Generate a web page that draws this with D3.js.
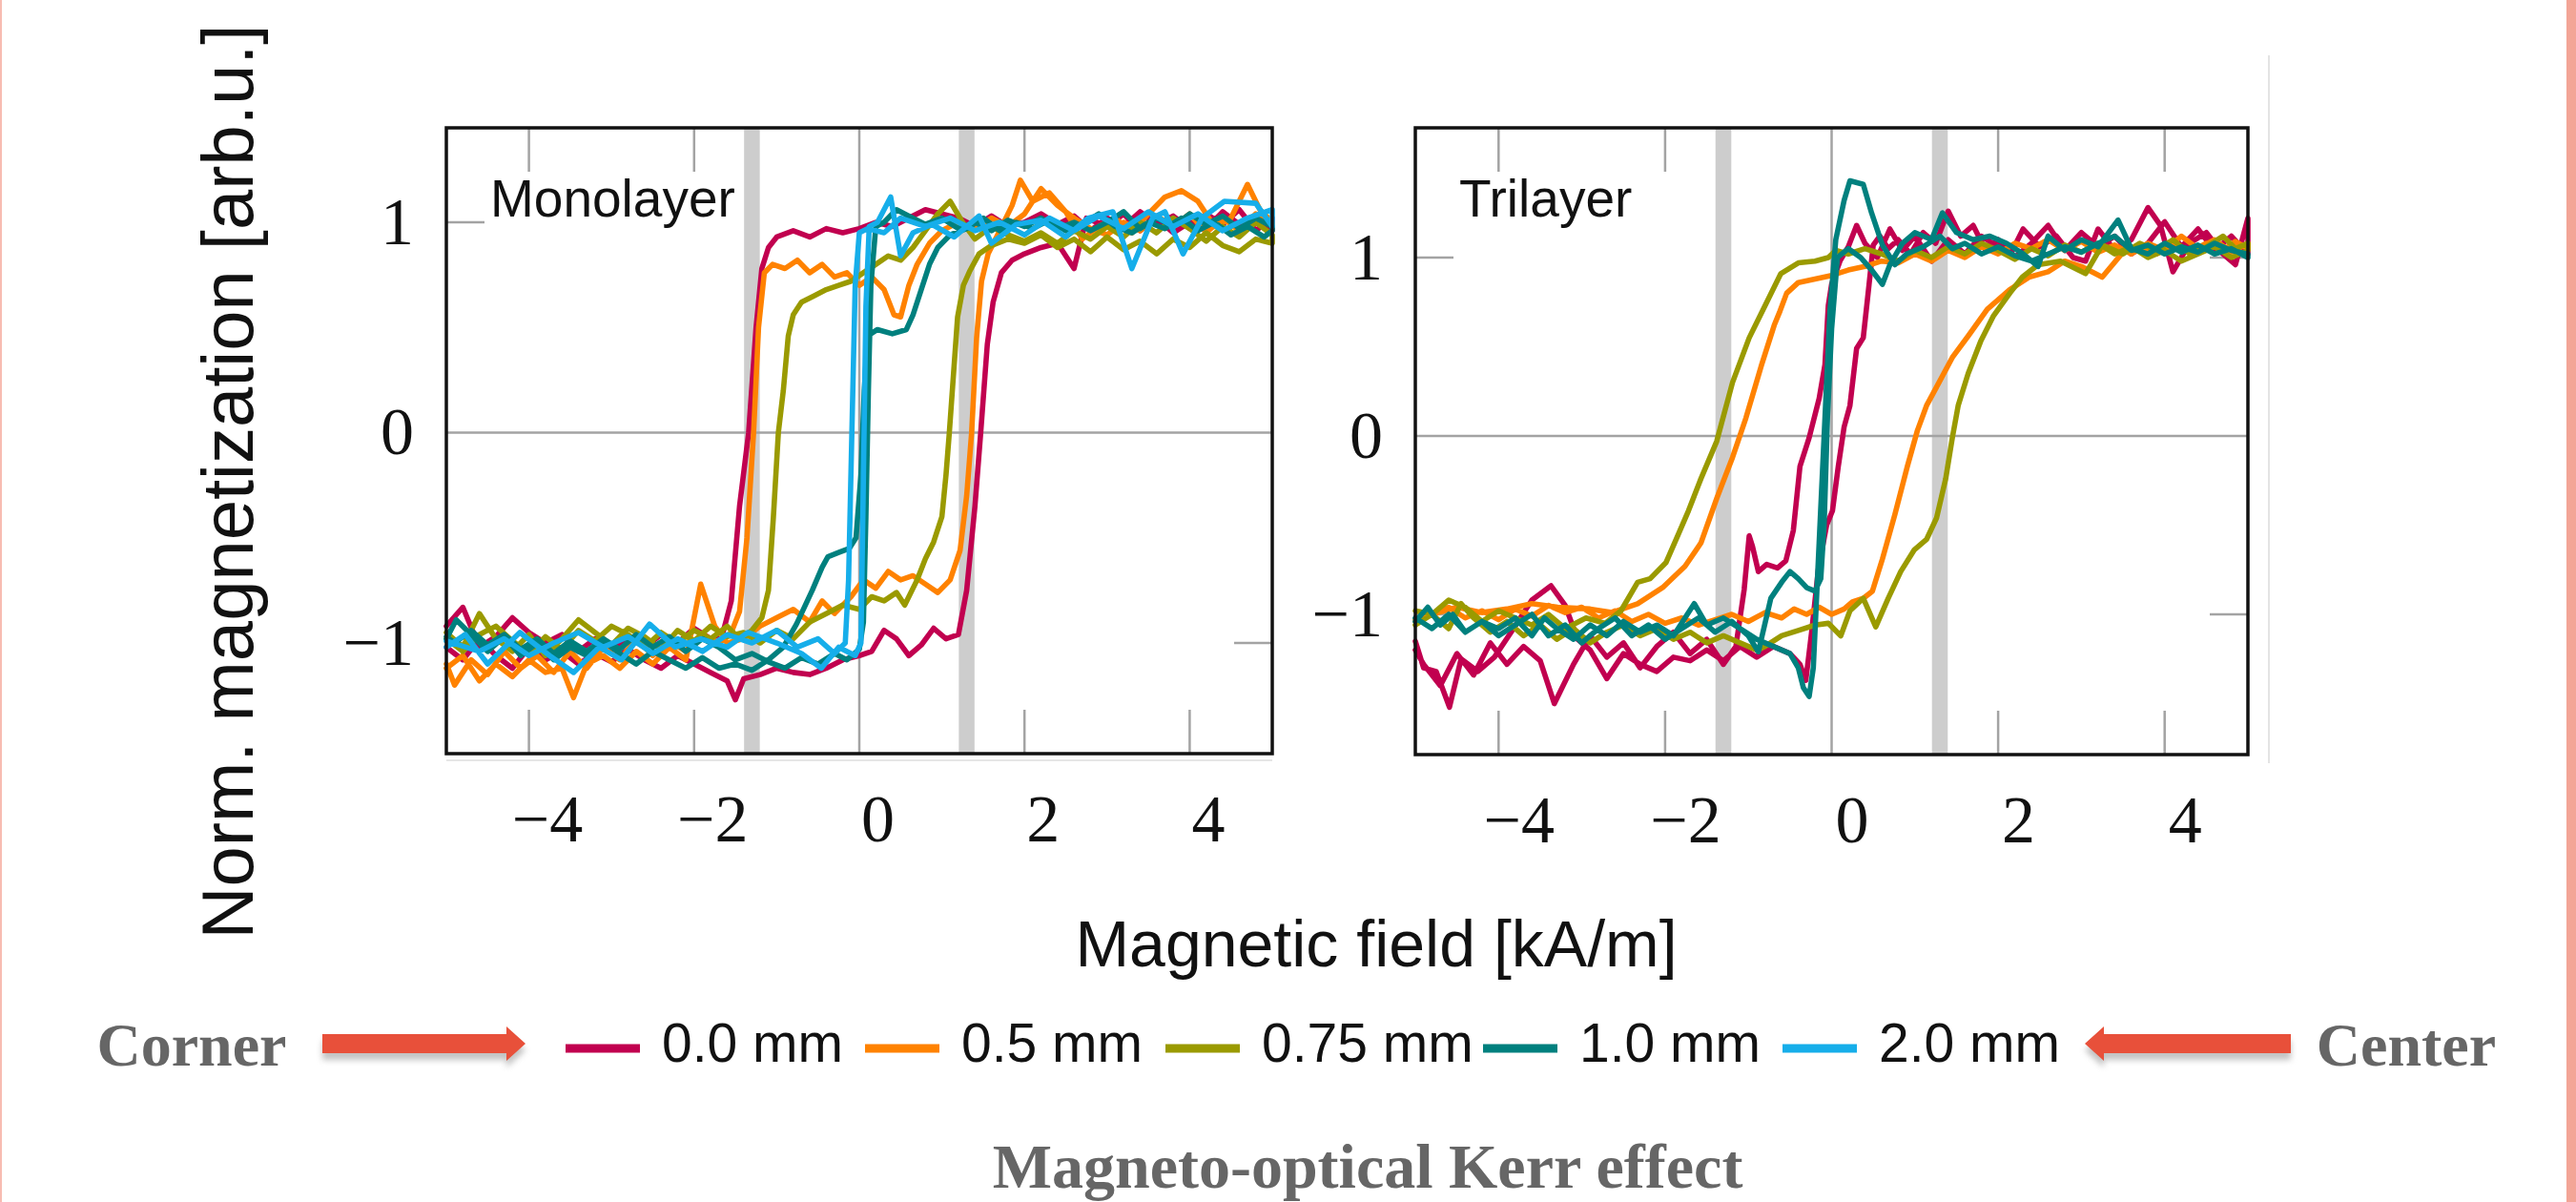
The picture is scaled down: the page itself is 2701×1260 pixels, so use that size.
<!DOCTYPE html>
<html>
<head>
<meta charset="utf-8">
<script src="https://cdn.jsdelivr.net/npm/d3@7"></script>
<style>
html, body { margin: 0; padding: 0; background: #fff; }
svg { display: block; }
</style>
</head>
<body>
<svg id="fig" width="2701" height="1260"></svg>
<script>
// legend entries (distance from the corner)
var seriesNames = ["0.0 mm", "0.5 mm", "0.75 mm", "1.0 mm", "2.0 mm"];
var seriesColors = ["#c1004f", "#ff8200", "#9a9a00", "#00807e", "#16aeea"];
var xTicks = [-4, -2, 0, 2, 4];
var yTicks = [-1, 0, 1];
var bandCenters = [-1.3, 1.3];

// Monolayer loops: [field kA/m, norm. magnetization], up = rising field, dn = falling field
var monoUp00 = [[-5.0,-1.02],[-4.8,-1.08],[-4.6,-0.98],[-4.4,-1.06],[-4.2,-1.12],[-4.0,-1.02],[-3.8,-1.08],[-3.6,-1.04],[-3.4,-1.10],[-3.2,-1.05],[-3.0,-1.09],[-2.8,-1.03],[-2.6,-1.08],[-2.4,-1.12],[-2.2,-1.06],[-2.0,-1.10],[-1.8,-1.14],[-1.6,-1.18],[-1.5,-1.27],[-1.4,-1.17],[-1.2,-1.15],[-1.0,-1.12],[-0.8,-1.14],[-0.6,-1.15],[-0.4,-1.12],[-0.2,-1.08],[0.0,-1.06],[0.15,-1.04],[0.3,-0.94],[0.45,-0.98],[0.6,-1.06],[0.75,-1.01],[0.9,-0.93],[1.05,-0.98],[1.2,-0.96],[1.3,-0.75],[1.4,-0.35],[1.47,0.0],[1.55,0.42],[1.62,0.62],[1.72,0.76],[1.85,0.82],[2.0,0.85],[2.2,0.88],[2.4,0.90],[2.6,0.78],[2.75,1.02],[3.0,0.98],[3.2,1.04],[3.4,0.96],[3.6,1.02],[3.8,0.95],[4.0,1.00],[4.2,0.97],[4.4,1.05],[4.6,0.99],[4.8,1.03],[5.0,0.96]];
var monoDn00 = [[5.0,1.02],[4.8,0.96],[4.6,1.06],[4.4,0.99],[4.2,1.04],[4.0,0.97],[3.8,1.03],[3.6,0.99],[3.4,1.05],[3.2,0.98],[3.0,1.02],[2.8,0.96],[2.6,1.03],[2.4,0.99],[2.2,1.04],[2.0,1.00],[1.8,0.98],[1.6,1.03],[1.4,0.98],[1.2,1.02],[1.0,1.04],[0.8,1.06],[0.6,1.02],[0.4,0.98],[0.2,1.0],[0.0,0.97],[-0.2,0.95],[-0.4,0.97],[-0.6,0.93],[-0.8,0.96],[-1.0,0.93],[-1.1,0.88],[-1.18,0.78],[-1.25,0.5],[-1.34,0.0],[-1.45,-0.35],[-1.55,-0.8],[-1.65,-0.95],[-1.8,-0.98],[-2.0,-0.93],[-2.2,-1.0],[-2.4,-0.96],[-2.6,-1.02],[-2.8,-0.97],[-3.0,-1.03],[-3.2,-0.98],[-3.4,-1.04],[-3.6,-0.96],[-3.8,-1.0],[-4.0,-0.95],[-4.2,-0.88],[-4.4,-0.97],[-4.6,-1.02],[-4.8,-0.83],[-5.0,-0.92]];
var monoUp05 = [[-5.0,-1.12],[-4.8,-1.06],[-4.6,-1.18],[-4.4,-1.10],[-4.2,-1.16],[-4.0,-1.08],[-3.8,-1.14],[-3.6,-1.12],[-3.46,-1.26],[-3.3,-1.10],[-3.1,-1.06],[-2.9,-1.12],[-2.7,-1.04],[-2.5,-1.10],[-2.3,-1.02],[-2.1,-1.08],[-1.92,-0.72],[-1.75,-0.92],[-1.6,-1.0],[-1.4,-0.98],[-1.2,-0.92],[-1.0,-0.88],[-0.8,-0.84],[-0.6,-0.90],[-0.45,-0.80],[-0.3,-0.86],[-0.1,-0.78],[0.05,-0.70],[0.2,-0.74],[0.35,-0.66],[0.5,-0.70],[0.65,-0.68],[0.8,-0.72],[0.95,-0.76],[1.1,-0.70],[1.22,-0.56],[1.3,-0.30],[1.36,0.0],[1.42,0.45],[1.48,0.72],[1.56,0.85],[1.7,0.96],[1.85,1.08],[1.95,1.20],[2.1,1.10],[2.3,1.14],[2.5,1.05],[2.7,0.92],[2.9,0.98],[3.1,1.02],[3.3,0.95],[3.5,1.04],[3.7,1.12],[3.9,1.15],[4.1,1.10],[4.3,0.98],[4.5,1.02],[4.7,1.18],[4.85,1.06],[5.0,1.0]];
var monoDn05 = [[5.0,0.98],[4.8,1.04],[4.6,0.96],[4.4,1.02],[4.2,0.95],[4.0,1.04],[3.8,0.98],[3.6,1.03],[3.4,0.96],[3.2,1.0],[3.0,0.94],[2.8,0.97],[2.6,1.02],[2.4,1.08],[2.2,1.16],[2.0,1.04],[1.8,0.98],[1.6,1.02],[1.4,0.97],[1.2,1.0],[1.0,0.96],[0.85,0.90],[0.7,0.80],[0.6,0.70],[0.5,0.55],[0.42,0.56],[0.3,0.68],[0.15,0.74],[0.0,0.70],[-0.15,0.76],[-0.3,0.74],[-0.45,0.80],[-0.6,0.76],[-0.75,0.82],[-0.9,0.78],[-1.05,0.80],[-1.15,0.76],[-1.22,0.5],[-1.28,0.0],[-1.36,-0.5],[-1.45,-0.85],[-1.55,-0.95],[-1.7,-1.0],[-1.9,-0.96],[-2.1,-1.04],[-2.3,-0.99],[-2.5,-1.06],[-2.7,-0.98],[-2.9,-1.08],[-3.1,-1.02],[-3.3,-1.12],[-3.5,-1.04],[-3.7,-1.14],[-3.9,-1.06],[-4.1,-1.12],[-4.3,-1.04],[-4.5,-1.15],[-4.7,-1.08],[-4.9,-1.20],[-5.0,-1.1]];
var monoUp075 = [[-5.0,-0.95],[-4.8,-1.02],[-4.6,-0.86],[-4.4,-0.98],[-4.2,-1.04],[-4.0,-0.96],[-3.8,-1.06],[-3.6,-0.98],[-3.4,-0.89],[-3.2,-0.95],[-3.0,-1.01],[-2.8,-0.93],[-2.6,-0.97],[-2.4,-1.03],[-2.2,-0.94],[-2.0,-0.99],[-1.8,-0.92],[-1.6,-0.97],[-1.4,-0.95],[-1.2,-1.0],[-1.0,-0.94],[-0.8,-0.98],[-0.6,-0.90],[-0.4,-0.86],[-0.2,-0.82],[0.0,-0.84],[0.15,-0.78],[0.3,-0.80],[0.45,-0.76],[0.55,-0.82],[0.7,-0.70],[0.8,-0.60],[0.9,-0.52],[1.0,-0.40],[1.05,-0.2],[1.09,0.0],[1.13,0.22],[1.19,0.55],[1.26,0.70],[1.34,0.77],[1.45,0.85],[1.6,0.89],[1.8,0.92],[2.0,0.90],[2.2,0.94],[2.4,0.88],[2.6,0.92],[2.8,0.86],[3.0,0.93],[3.2,0.87],[3.4,0.91],[3.6,0.85],[3.8,0.92],[4.0,0.88],[4.2,0.95],[4.4,0.89],[4.6,0.86],[4.8,0.92],[5.0,0.90]];
var monoDn075 = [[5.0,0.94],[4.8,1.0],[4.6,0.93],[4.4,0.98],[4.2,0.91],[4.0,0.97],[3.8,1.02],[3.6,0.95],[3.4,1.0],[3.2,0.93],[3.0,0.98],[2.8,0.92],[2.6,0.96],[2.4,0.90],[2.2,0.95],[2.0,0.91],[1.8,0.94],[1.6,0.98],[1.4,0.92],[1.25,1.0],[1.1,1.10],[0.95,1.04],[0.8,0.96],[0.65,0.88],[0.5,0.82],[0.35,0.84],[0.2,0.80],[0.05,0.76],[-0.1,0.72],[-0.25,0.70],[-0.4,0.68],[-0.55,0.65],[-0.7,0.62],[-0.8,0.56],[-0.86,0.46],[-0.92,0.2],[-0.98,0.0],[-1.04,-0.4],[-1.1,-0.75],[-1.18,-0.88],[-1.3,-0.94],[-1.45,-0.98],[-1.6,-0.92],[-1.8,-0.98],[-2.0,-0.94],[-2.2,-1.0],[-2.4,-0.95],[-2.6,-1.02],[-2.8,-0.96],[-3.0,-0.92],[-3.2,-0.99],[-3.4,-0.94],[-3.6,-1.03],[-3.8,-0.97],[-4.0,-1.05],[-4.2,-0.99],[-4.4,-0.92],[-4.6,-0.96],[-4.8,-1.04],[-5.0,-0.98]];
var monoUp10 = [[-5.0,-0.98],[-4.88,-0.89],[-4.7,-0.96],[-4.5,-1.04],[-4.3,-0.97],[-4.1,-1.06],[-3.9,-1.0],[-3.7,-1.08],[-3.5,-1.02],[-3.3,-1.06],[-3.1,-0.99],[-2.9,-1.05],[-2.7,-1.10],[-2.5,-1.04],[-2.3,-1.08],[-2.1,-1.12],[-1.9,-1.07],[-1.7,-1.12],[-1.5,-1.10],[-1.3,-1.13],[-1.1,-1.08],[-0.92,-1.02],[-0.76,-0.91],[-0.57,-0.75],[-0.45,-0.64],[-0.38,-0.59],[-0.25,-0.57],[-0.12,-0.55],[-0.04,-0.50],[0.02,-0.2],[0.06,0.2],[0.1,0.46],[0.22,0.49],[0.4,0.47],[0.57,0.49],[0.65,0.56],[0.75,0.68],[0.85,0.80],[0.95,0.88],[1.1,0.94],[1.3,0.97],[1.5,1.02],[1.7,0.96],[1.9,1.0],[2.1,0.97],[2.3,1.01],[2.5,0.96],[2.7,0.99],[2.9,1.04],[3.1,0.98],[3.3,0.95],[3.5,1.0],[3.7,0.97],[3.9,1.02],[4.1,0.96],[4.3,1.0],[4.5,0.94],[4.7,0.98],[4.9,0.93],[5.0,0.96]];
var monoDn10 = [[5.0,0.98],[4.8,1.02],[4.6,0.97],[4.4,1.03],[4.2,0.99],[4.0,1.04],[3.8,0.98],[3.6,1.02],[3.4,0.97],[3.2,1.05],[3.0,1.0],[2.8,0.96],[2.6,1.0],[2.4,0.97],[2.2,1.02],[2.0,0.98],[1.8,1.01],[1.6,0.96],[1.4,1.0],[1.2,0.97],[1.0,1.02],[0.8,0.99],[0.6,1.03],[0.45,1.06],[0.3,1.0],[0.2,0.98],[0.14,0.7],[0.11,0.2],[0.08,-0.4],[0.05,-0.9],[0.0,-1.03],[-0.15,-1.08],[-0.3,-1.05],[-0.5,-1.10],[-0.7,-1.07],[-0.9,-1.12],[-1.1,-1.09],[-1.3,-1.05],[-1.5,-1.08],[-1.7,-1.02],[-1.9,-0.98],[-2.1,-1.04],[-2.3,-0.97],[-2.5,-1.02],[-2.7,-0.96],[-2.9,-1.03],[-3.1,-0.98],[-3.3,-1.04],[-3.5,-0.99],[-3.7,-1.05],[-3.9,-0.98],[-4.1,-1.03],[-4.3,-0.96],[-4.5,-1.01],[-4.7,-0.94],[-4.9,-1.0],[-5.0,-0.97]];
var monoUp20 = [[-5.0,-1.02],[-4.77,-0.96],[-4.5,-1.10],[-4.11,-0.95],[-3.75,-1.06],[-3.46,-1.14],[-3.15,-1.02],[-2.88,-1.08],[-2.54,-0.91],[-2.23,-1.02],[-1.92,-0.98],[-1.6,-1.02],[-1.35,-0.95],[-1.0,-1.0],[-0.7,-1.05],[-0.46,-1.12],[-0.25,-1.02],[-0.05,-1.06],[0.02,-1.0],[0.05,-0.2],[0.08,0.6],[0.12,0.98],[0.22,1.0],[0.38,1.12],[0.5,0.84],[0.65,0.95],[0.88,0.99],[1.15,0.93],[1.45,1.03],[1.6,0.9],[1.9,0.99],[2.2,1.01],[2.5,0.93],[2.77,1.02],[3.07,1.05],[3.3,0.78],[3.55,1.02],[3.7,1.05],[3.92,0.85],[4.15,1.02],[4.42,1.10],[4.8,1.09],[5.0,0.98]];
var monoDn20 = [[5.0,1.06],[4.7,1.02],[4.4,0.96],[4.1,1.04],[3.8,0.98],[3.5,1.05],[3.2,0.97],[2.9,1.03],[2.6,0.96],[2.3,1.02],[2.0,0.94],[1.7,1.0],[1.4,0.96],[1.1,1.02],[0.8,0.98],[0.5,1.02],[0.3,0.95],[0.1,0.97],[0.0,0.95],[-0.05,0.7],[-0.09,0.0],[-0.13,-0.7],[-0.17,-1.0],[-0.3,-1.05],[-0.5,-0.98],[-0.75,-1.02],[-1.0,-0.94],[-1.3,-1.0],[-1.6,-0.96],[-1.9,-1.04],[-2.2,-0.98],[-2.5,-1.05],[-2.8,-0.97],[-3.1,-1.02],[-3.4,-0.95],[-3.7,-1.0],[-4.0,-1.06],[-4.3,-0.98],[-4.6,-1.04],[-5.0,-0.99]];

// Trilayer loops (no 2.0 mm curve)
var triUp00 = [[-5.0,-1.15],[-4.9,-1.30],[-4.75,-1.32],[-4.59,-1.52],[-4.45,-1.25],[-4.25,-1.32],[-4.05,-1.24],[-3.85,-1.10],[-3.6,-0.92],[-3.37,-0.84],[-3.2,-0.95],[-3.05,-1.14],[-2.9,-1.20],[-2.7,-1.36],[-2.5,-1.22],[-2.3,-1.28],[-2.1,-1.32],[-1.9,-1.24],[-1.7,-1.26],[-1.5,-1.20],[-1.3,-1.26],[-1.1,-1.18],[-0.9,-1.24],[-0.7,-1.18],[-0.5,-1.22],[-0.38,-1.28],[-0.31,-1.37],[-0.24,-1.10],[-0.16,-0.75],[-0.06,-0.50],[0.01,-0.42],[0.08,-0.17],[0.15,0.05],[0.22,0.17],[0.3,0.49],[0.38,0.55],[0.45,0.85],[0.5,1.07],[0.58,1.12],[0.68,1.05],[0.8,1.10],[0.95,1.02],[1.1,1.14],[1.25,1.08],[1.4,1.26],[1.55,1.12],[1.7,1.18],[1.85,1.04],[2.0,1.10],[2.15,1.02],[2.3,1.16],[2.5,1.06],[2.7,1.12],[2.9,1.0],[3.05,0.98],[3.2,1.16],[3.4,1.04],[3.6,1.10],[3.8,1.28],[3.95,1.18],[4.1,0.92],[4.3,1.08],[4.5,1.14],[4.7,1.02],[4.85,0.96],[5.0,1.22]];
var triDn00 = [[5.0,1.02],[4.8,1.12],[4.6,1.04],[4.4,1.16],[4.2,1.06],[4.0,1.20],[3.8,1.08],[3.6,1.02],[3.4,1.12],[3.2,1.06],[3.0,1.14],[2.8,1.04],[2.6,1.18],[2.4,1.08],[2.2,1.0],[2.0,1.06],[1.8,1.12],[1.6,1.02],[1.4,1.10],[1.2,0.98],[1.0,1.12],[0.85,1.04],[0.7,1.16],[0.55,1.0],[0.4,1.08],[0.3,1.18],[0.2,1.06],[0.1,0.98],[0.0,0.85],[-0.04,0.73],[-0.08,0.40],[-0.15,0.21],[-0.27,-0.01],[-0.38,-0.17],[-0.46,-0.53],[-0.55,-0.70],[-0.65,-0.74],[-0.78,-0.72],[-0.88,-0.76],[-0.95,-0.62],[-0.99,-0.56],[-1.05,-0.86],[-1.15,-1.18],[-1.3,-1.28],[-1.5,-1.14],[-1.7,-1.22],[-1.9,-1.10],[-2.1,-1.18],[-2.3,-1.30],[-2.5,-1.16],[-2.7,-1.24],[-2.9,-1.12],[-3.1,-1.28],[-3.33,-1.50],[-3.5,-1.26],[-3.7,-1.18],[-3.9,-1.28],[-4.1,-1.16],[-4.3,-1.34],[-4.5,-1.22],[-4.7,-1.40],[-4.9,-1.28],[-5.0,-1.20]];
var triUp05 = [[-5.0,-1.04],[-4.8,-1.0],[-4.6,-0.96],[-4.4,-1.02],[-4.2,-0.98],[-4.0,-1.03],[-3.8,-0.97],[-3.6,-1.01],[-3.4,-0.95],[-3.2,-0.99],[-3.0,-0.96],[-2.8,-1.02],[-2.6,-0.98],[-2.4,-1.04],[-2.2,-1.0],[-2.0,-1.05],[-1.8,-1.02],[-1.6,-1.06],[-1.4,-1.03],[-1.2,-1.0],[-1.0,-1.04],[-0.8,-0.99],[-0.6,-1.02],[-0.45,-0.97],[-0.3,-1.0],[-0.15,-0.96],[0.0,-1.0],[0.15,-0.97],[0.25,-0.93],[0.38,-0.91],[0.49,-0.87],[0.61,-0.69],[0.76,-0.44],[0.91,-0.17],[1.03,0.03],[1.14,0.17],[1.29,0.30],[1.45,0.44],[1.64,0.56],[1.87,0.71],[2.14,0.82],[2.37,0.89],[2.6,0.92],[2.8,0.98],[3.0,0.95],[3.25,0.89],[3.5,1.03],[3.7,1.06],[3.9,1.02],[4.1,1.07],[4.3,1.03],[4.5,1.08],[4.7,1.04],[4.85,1.09],[5.0,1.05]];
var triDn05 = [[5.0,1.08],[4.8,1.03],[4.6,1.10],[4.4,1.05],[4.2,1.12],[4.0,1.04],[3.8,1.08],[3.6,1.02],[3.4,1.07],[3.2,1.03],[3.0,1.09],[2.8,1.04],[2.6,1.10],[2.4,1.05],[2.2,1.08],[2.0,1.02],[1.8,1.06],[1.6,1.0],[1.4,1.04],[1.2,0.98],[1.0,1.02],[0.8,0.97],[0.6,0.98],[0.4,0.95],[0.2,0.93],[0.0,0.90],[-0.2,0.88],[-0.4,0.86],[-0.54,0.80],[-0.62,0.70],[-0.69,0.62],[-0.84,0.40],[-1.03,0.10],[-1.19,-0.12],[-1.38,-0.35],[-1.57,-0.60],[-1.76,-0.73],[-2.03,-0.85],[-2.33,-0.94],[-2.64,-0.99],[-2.9,-0.97],[-3.29,-0.96],[-3.6,-0.94],[-3.9,-0.97],[-4.2,-0.99],[-4.5,-0.96],[-4.8,-1.0],[-5.0,-1.03]];
var triUp075 = [[-5.0,-1.06],[-4.8,-1.0],[-4.6,-1.08],[-4.45,-0.94],[-4.3,-1.02],[-4.1,-1.10],[-3.9,-1.04],[-3.7,-1.12],[-3.5,-1.06],[-3.3,-1.14],[-3.1,-1.08],[-2.9,-1.16],[-2.7,-1.10],[-2.5,-1.06],[-2.3,-1.12],[-2.1,-1.08],[-1.9,-1.14],[-1.7,-1.10],[-1.5,-1.16],[-1.3,-1.12],[-1.1,-1.16],[-0.9,-1.20],[-0.8,-1.18],[-0.6,-1.12],[-0.4,-1.09],[-0.2,-1.06],[-0.04,-1.05],[0.11,-1.12],[0.22,-0.98],[0.38,-0.91],[0.53,-1.07],[0.68,-0.91],[0.83,-0.76],[0.99,-0.64],[1.14,-0.58],[1.26,-0.46],[1.37,-0.24],[1.45,-0.01],[1.52,0.17],[1.64,0.35],[1.79,0.53],[1.94,0.67],[2.14,0.80],[2.29,0.89],[2.48,0.96],[2.75,0.98],[3.05,0.91],[3.25,1.07],[3.5,1.02],[3.7,1.08],[3.9,1.04],[4.1,1.10],[4.3,1.02],[4.5,1.06],[4.7,1.12],[4.85,1.05],[5.0,1.08]];
var triDn075 = [[5.0,1.04],[4.8,1.0],[4.6,1.06],[4.4,1.02],[4.2,0.98],[4.0,1.04],[3.8,1.0],[3.6,1.06],[3.4,1.02],[3.2,1.08],[3.0,1.03],[2.8,1.07],[2.6,1.01],[2.4,1.05],[2.2,0.99],[2.0,1.04],[1.8,1.08],[1.6,1.02],[1.4,1.06],[1.2,1.0],[1.0,1.04],[0.8,0.98],[0.6,1.02],[0.4,1.05],[0.2,1.02],[0.05,1.04],[-0.04,1.0],[-0.2,0.98],[-0.4,0.97],[-0.61,0.91],[-0.80,0.73],[-0.99,0.55],[-1.19,0.30],[-1.38,-0.03],[-1.57,-0.24],[-1.72,-0.42],[-1.84,-0.55],[-1.99,-0.71],[-2.18,-0.80],[-2.33,-0.82],[-2.53,-0.98],[-2.72,-1.05],[-2.95,-1.02],[-3.2,-1.08],[-3.4,-1.0],[-3.6,-1.06],[-3.8,-1.02],[-4.0,-0.98],[-4.2,-1.04],[-4.4,-0.96],[-4.6,-0.92],[-4.8,-1.0],[-5.0,-0.98]];
var triUp10 = [[-5.0,-1.04],[-4.85,-0.96],[-4.7,-1.06],[-4.55,-1.0],[-4.4,-1.1],[-4.2,-1.04],[-4.0,-1.08],[-3.8,-1.02],[-3.6,-1.12],[-3.45,-1.02],[-3.3,-1.08],[-3.1,-1.14],[-2.9,-1.06],[-2.7,-1.12],[-2.5,-1.04],[-2.3,-1.10],[-2.1,-1.06],[-1.9,-1.12],[-1.65,-0.94],[-1.5,-1.06],[-1.3,-1.02],[-1.1,-1.08],[-0.9,-1.14],[-0.7,-1.18],[-0.5,-1.22],[-0.4,-1.30],[-0.34,-1.41],[-0.27,-1.46],[-0.22,-1.30],[-0.15,-0.6],[-0.08,0.1],[-0.02,0.7],[0.05,1.1],[0.15,1.32],[0.22,1.43],[0.38,1.41],[0.48,1.25],[0.61,1.07],[0.76,0.96],[0.9,1.02],[1.1,1.06],[1.3,1.12],[1.45,1.05],[1.6,1.08],[1.8,1.02],[2.0,1.06],[2.2,1.01],[2.4,0.98],[2.6,1.02],[2.8,1.06],[3.0,1.03],[3.2,1.08],[3.4,1.12],[3.6,1.04],[3.8,1.07],[4.0,1.02],[4.2,1.06],[4.4,1.03],[4.6,1.08],[4.8,1.04],[5.0,1.02]];
var triDn10 = [[5.0,1.0],[4.8,1.05],[4.6,1.02],[4.4,1.07],[4.2,1.03],[4.0,1.08],[3.8,1.02],[3.6,1.05],[3.44,1.21],[3.2,1.06],[3.0,1.10],[2.8,1.04],[2.6,1.12],[2.48,0.95],[2.3,1.02],[2.1,1.08],[1.9,1.12],[1.7,1.10],[1.5,1.14],[1.33,1.25],[1.2,1.10],[1.0,1.14],[0.85,1.08],[0.7,0.96],[0.61,0.85],[0.48,0.93],[0.35,1.0],[0.2,1.05],[0.07,1.0],[0.0,0.6],[-0.05,0.1],[-0.09,-0.5],[-0.13,-0.8],[-0.2,-0.87],[-0.3,-0.85],[-0.4,-0.80],[-0.5,-0.76],[-0.6,-0.82],[-0.73,-0.91],[-0.88,-1.21],[-1.0,-1.12],[-1.2,-1.04],[-1.4,-1.10],[-1.6,-1.02],[-1.8,-1.08],[-2.0,-1.14],[-2.2,-1.06],[-2.4,-1.12],[-2.6,-1.02],[-2.8,-1.08],[-3.0,-1.16],[-3.2,-1.06],[-3.4,-1.12],[-3.6,-1.0],[-3.8,-1.06],[-4.0,-1.12],[-4.2,-1.04],[-4.4,-1.10],[-4.6,-1.0],[-4.8,-1.08],[-5.0,-1.02]];

var svg = d3.select("#fig");
var sans = "'Liberation Sans', Arial, sans-serif";
var serif = "'Liberation Serif', 'Times New Roman', serif";

// slide border
svg.append("rect").attr("x", 0).attr("y", 0).attr("width", 2).attr("height", 1260).attr("fill", "#f7bcb2");
svg.append("rect").attr("x", 2691).attr("y", 0).attr("width", 10).attr("height", 1260).attr("fill", "#f3a597");

// faint edges of the pasted plot image
svg.append("line").attr("x1", 2379).attr("x2", 2379).attr("y1", 58).attr("y2", 800)
  .attr("stroke", "#e4e4e4").attr("stroke-width", 2);
svg.append("line").attr("x1", 468).attr("x2", 1334).attr("y1", 797).attr("y2", 797)
  .attr("stroke", "#e6e6e6").attr("stroke-width", 2);

var panels = [
  { name: "Monolayer", left: 468, right: 1334, top: 134, bottom: 790, yDom: [-1.526, 1.449], labDx: 19,
    loops: [[monoUp00, monoDn00], [monoUp05, monoDn05], [monoUp075, monoDn075], [monoUp10, monoDn10], [monoUp20, monoDn20]] },
  { name: "Trilayer", left: 1484, right: 2357, top: 134, bottom: 791, yDom: [-1.786, 1.727], labDx: 21,
    loops: [[triUp00, triDn00], [triUp05, triDn05], [triUp075, triDn075], [triUp10, triDn10], null] }
];

panels.forEach(function(p) {
    var x = d3.scaleLinear().domain([-5, 5]).range([p.left, p.right]);
    var y = d3.scaleLinear().domain(p.yDom).range([p.bottom, p.top]);
    var g = svg.append("g");

    // grey marker bands
    bandCenters.forEach(function(c) {
        g.append("rect")
          .attr("x", x(c - 0.095))
          .attr("width", x(c + 0.095) - x(c - 0.095))
          .attr("y", p.top)
          .attr("height", p.bottom - p.top)
          .attr("fill", "#cdcdcd");
    });

    // inner tick marks and zero lines
    xTicks.forEach(function(t) {
        if (t === 0) {
            g.append("line").attr("x1", x(0)).attr("x2", x(0)).attr("y1", p.top).attr("y2", p.bottom)
              .attr("stroke", "#a3a3a3").attr("stroke-width", 2.5);
        } else {
            g.append("line").attr("x1", x(t)).attr("x2", x(t)).attr("y1", p.top).attr("y2", p.top + 46)
              .attr("stroke", "#a3a3a3").attr("stroke-width", 2.5);
            g.append("line").attr("x1", x(t)).attr("x2", x(t)).attr("y1", p.bottom - 46).attr("y2", p.bottom)
              .attr("stroke", "#a3a3a3").attr("stroke-width", 2.5);
        }
    });
    yTicks.forEach(function(t) {
        if (t === 0) {
            g.append("line").attr("x1", p.left).attr("x2", p.right).attr("y1", y(0)).attr("y2", y(0))
              .attr("stroke", "#a3a3a3").attr("stroke-width", 2.5);
        } else {
            g.append("line").attr("x1", p.left).attr("x2", p.left + 40).attr("y1", y(t)).attr("y2", y(t))
              .attr("stroke", "#a3a3a3").attr("stroke-width", 2.5);
            g.append("line").attr("x1", p.right - 40).attr("x2", p.right).attr("y1", y(t)).attr("y2", y(t))
              .attr("stroke", "#a3a3a3").attr("stroke-width", 2.5);
        }
    });

    // hysteresis loops
    var line = d3.line().x(function(d) { return x(d[0]); }).y(function(d) { return y(d[1]); });
    p.loops.forEach(function(lp, i) {
        if (!lp) return;
        g.append("path")
          .datum(lp[0].concat(lp[1]))
          .attr("d", line)
          .attr("fill", "none")
          .attr("stroke", seriesColors[i])
          .attr("stroke-width", 5.6)
          .attr("stroke-linejoin", "round")
          .attr("stroke-linecap", "round");
    });

    // frame
    g.append("rect")
      .attr("x", p.left).attr("y", p.top)
      .attr("width", p.right - p.left).attr("height", p.bottom - p.top)
      .attr("fill", "none").attr("stroke", "#111").attr("stroke-width", 3.5);

    g.append("text")
      .attr("x", p.left + 46).attr("y", 227)
      .attr("font-family", sans).style("font-size", "55px")
      .attr("fill", "#111")
      .text(p.name);

    // tick labels
    var fmt = d3.format("d");
    var ax = g.append("g")
      .attr("transform", "translate(" + p.labDx + "," + p.bottom + ")")
      .call(d3.axisBottom(x).tickValues(xTicks).tickFormat(fmt).tickSize(0).tickPadding(42));
    var ay = g.append("g")
      .attr("transform", "translate(" + p.left + ",0)")
      .call(d3.axisLeft(y).tickValues(yTicks).tickFormat(fmt).tickSize(0).tickPadding(34));
    [ax, ay].forEach(function(a) {
        a.select(".domain").remove();
        a.selectAll("text").attr("font-family", serif).style("font-size", "70px").attr("fill", "#111");
    });
});

// axis titles
svg.append("text")
  .attr("transform", "translate(265,505) rotate(-90)")
  .attr("text-anchor", "middle")
  .attr("font-family", sans).style("font-size", "76px").attr("fill", "#111")
  .text("Norm. magnetization [arb.u.]");
svg.append("text")
  .attr("x", 1443).attr("y", 1013)
  .attr("text-anchor", "middle")
  .attr("font-family", sans).style("font-size", "68px").attr("fill", "#111")
  .text("Magnetic field [kA/m]");

// legend row
var defs = svg.append("defs");
defs.append("filter").attr("id", "shadow").attr("x", "-10%").attr("y", "-50%").attr("width", "120%").attr("height", "220%")
  .append("feGaussianBlur").attr("stdDeviation", 3);

function arrow(x0, x1, cy, pointRight) {
    var body = 10, head = 18, hl = 20;
    var pts;
    if (pointRight) {
        pts = [[x0, cy - body], [x1 - hl, cy - body], [x1 - hl, cy - head], [x1, cy], [x1 - hl, cy + head], [x1 - hl, cy + body], [x0, cy + body]];
    } else {
        pts = [[x1, cy - body], [x0 + hl, cy - body], [x0 + hl, cy - head], [x0, cy], [x0 + hl, cy + head], [x0 + hl, cy + body], [x1, cy + body]];
    }
    var s = pts.map(function(q) { return q.join(","); }).join(" ");
    svg.append("polygon").attr("points", s).attr("fill", "#9a9a9a").attr("opacity", 0.6)
      .attr("transform", "translate(0,7)").attr("filter", "url(#shadow)");
    svg.append("polygon").attr("points", s).attr("fill", "#e8503a");
}

svg.append("text")
  .attr("x", 201).attr("y", 1117).attr("text-anchor", "middle")
  .attr("font-family", serif).attr("font-weight", "bold").style("font-size", "64px").attr("fill", "#666")
  .text("Corner");
arrow(338, 551, 1094, true);

var swatchX = [593, 907, 1222, 1555, 1869];
seriesNames.forEach(function(n, i) {
    svg.append("line")
      .attr("x1", swatchX[i]).attr("x2", swatchX[i] + 78)
      .attr("y1", 1099).attr("y2", 1099)
      .attr("stroke", seriesColors[i]).attr("stroke-width", 9);
    svg.append("text")
      .attr("x", swatchX[i] + 101).attr("y", 1113)
      .attr("font-family", sans).style("font-size", "57px").attr("fill", "#111")
      .text(n);
});

arrow(2186, 2402, 1094, false);
svg.append("text")
  .attr("x", 2523).attr("y", 1117).attr("text-anchor", "middle")
  .attr("font-family", serif).attr("font-weight", "bold").style("font-size", "64px").attr("fill", "#666")
  .text("Center");

svg.append("text")
  .attr("x", 1434).attr("y", 1245).attr("text-anchor", "middle")
  .attr("font-family", serif).attr("font-weight", "bold").style("font-size", "66px").attr("fill", "#666")
  .text("Magneto-optical Kerr effect");
</script>
</body>
</html>
